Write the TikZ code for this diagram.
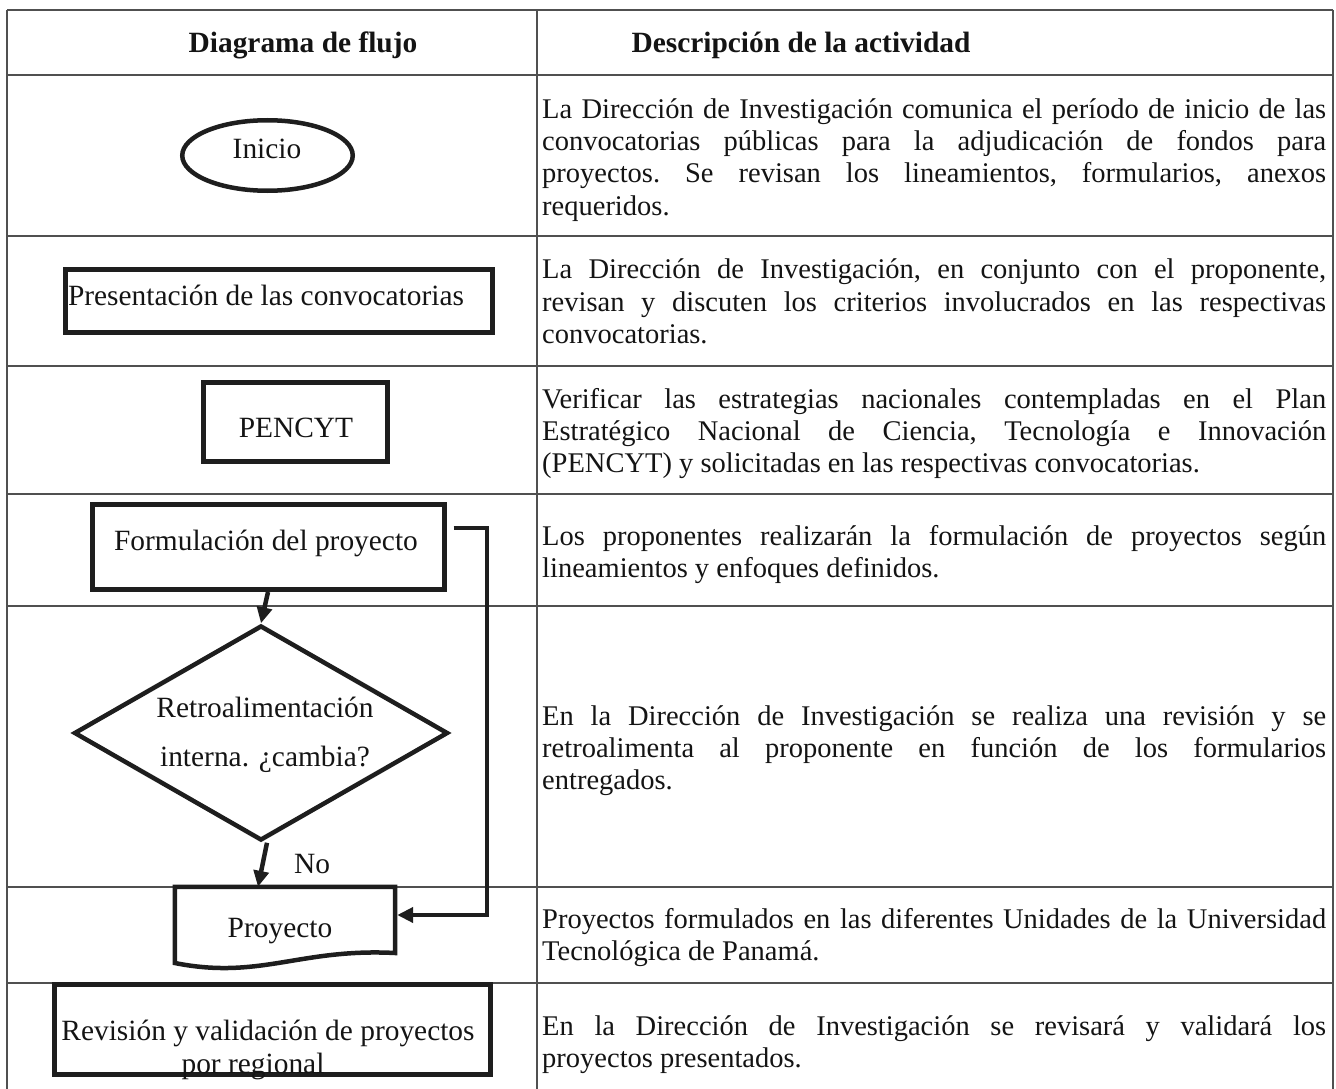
\documentclass[tikz,border=0pt]{standalone}
\usepackage{fontspec}
\setmainfont{Liberation Serif}
\usetikzlibrary{arrows.meta,shapes.geometric,calc}
\definecolor{tablecol}{HTML}{505050}
\definecolor{shapecol}{HTML}{1E1E1E}
\definecolor{txtcol}{HTML}{141414}
\newcommand{\dset}{\tolerance=10000\relax\hyphenpenalty=10000\relax\frenchspacing\strut}
\begin{document}
\begin{tikzpicture}[x=1pt,y=-1pt,
  tline/.style={line width=1.4pt, draw=tablecol},
  boxnode/.style={draw=shapecol, line width=5pt, rectangle, inner sep=0pt},
  conn/.style={line width=4.5pt, draw=shapecol, line join=miter, -{Triangle[length=16pt,width=15pt]}},
  txt/.style={inner sep=0pt, text=txtcol, font=\fontsize{29.4}{34}\selectfont},
  head/.style={inner sep=0pt, text=txtcol, font=\fontsize{29.4}{34}\selectfont\bfseries},
  desc/.style={inner sep=0pt, text=txtcol, anchor=north west, text width=784pt, align=justify,
               font=\fontsize{28.5}{32.4}\selectfont},
]
\useasboundingbox (0,0) rectangle (1336,1089);

% ---------- table grid ----------
\draw[tline] (7,10) -- (1333,10);
\draw[tline] (7,75) -- (1333,75);
\draw[tline] (7,236) -- (1333,236);
\draw[tline] (7,366) -- (1333,366);
\draw[tline] (7,494) -- (1333,494);
\draw[tline] (7,606) -- (1333,606);
\draw[tline] (7,887) -- (1333,887);
\draw[tline] (7,983) -- (1333,983);
\draw[tline] (7,10) -- (7,1089);
\draw[tline] (537,10) -- (537,1089);
\draw[tline] (1333,10) -- (1333,1089);

% ---------- header ----------
\node[head, anchor=base] (h1) at (303,53) {Diagrama de flujo};
\node[head, anchor=base] (h2) at (801,53) {Descripción de la actividad};

% ---------- flowchart shapes ----------
\node[ellipse, draw=shapecol, line width=4.5pt, inner sep=0pt,
      minimum width=170.5pt, minimum height=70.5pt] (inicio) at (267.5,155.5) {};
\node[boxnode, minimum width=427pt, minimum height=63pt] (pres) at (279,301) {};
\node[boxnode, minimum width=184pt, minimum height=79pt] (pency) at (295.5,422) {};
\node[boxnode, minimum width=352pt, minimum height=85pt] (form) at (268.5,547) {};
\node[diamond, draw=shapecol, line width=4.5pt, inner sep=0pt, line join=miter,
      minimum width=374pt, minimum height=215pt] (dia) at (261,733) {};
\node[inner sep=0pt, minimum width=220pt, minimum height=66pt] (proy) at (285,920) {};
\draw[draw=shapecol, line width=4.5pt, line join=miter]
  (proy.south west |- 0,963) -- (proy.north west) -- (proy.north east) -- (proy.east |- 0,953)
  .. controls (300,948) and (260,980) .. (proy.west |- 0,963) -- cycle;
\node[boxnode, minimum width=436pt, minimum height=90pt] (revi) at (272.5,1029.5) {};

% ---------- flowchart texts ----------
\node[txt, anchor=base] (tinicio) at (267,159) {Inicio};
\node[txt, anchor=base] (tpres) at (266,305) {Presentación de las convocatorias};
\node[txt, anchor=base] (tpency) at (296,437) {PENCYT};
\node[txt, anchor=base] (tform) at (266,550) {Formulación del proyecto};
\node[txt, anchor=base] (tdia1) at (265,717) {Retroalimentación};
\node[txt, anchor=base] (tdia2) at (265,766) {interna. ¿cambia?};
\node[txt, anchor=base] (tproy) at (280,937) {Proyecto};
\node[txt, anchor=base] (trevi1) at (268,1040) {Revisión y validación de proyectos};
\node[txt, anchor=base] (trevi2) at (253,1073) {por regional};

% ---------- connectors ----------
\draw[conn] ([xshift=-0.5pt]form.south) -- (dia.north);
\draw[conn] ([xshift=6pt]dia.south) -- ([xshift=-27pt]proy.north);
\node[txt, anchor=base] (tno) at (312,873) {No};
\coordinate (fbA) at (487,528);
\coordinate (fbB) at (487,915);
\draw[conn] ([xshift=6.5pt]form.east |- fbA) -- (fbA) -- (fbB) -- ([xshift=2pt]proy.east |- fbB);

% ---------- descriptions ----------
\node[desc] (d1) at (542,95.3) {\dset La Dirección de Investigación comunica el período de inicio de las\linebreak convocatorias públicas para la adjudicación de fondos para\linebreak proyectos. Se revisan los lineamientos, formularios, anexos\linebreak requeridos.};
\node[desc] (d2) at (542,255.8) {\dset La Dirección de Investigación, en conjunto con el proponente,\linebreak revisan y discuten los criterios involucrados en las respectivas\linebreak convocatorias.};
\node[desc] (d3) at (542,385.3) {\dset Verificar las estrategias nacionales contempladas en el Plan\linebreak Estratégico Nacional de Ciencia, Tecnología e Innovación\linebreak (PENCYT) y solicitadas en las respectivas convocatorias.};
\node[desc] (d4) at (542,522.3) {\dset Los proponentes realizarán la formulación de proyectos según\linebreak lineamientos y enfoques definidos.};
\node[desc] (d5) at (542,702.3) {\dset En la Dirección de Investigación se realiza una revisión y se\linebreak retroalimenta al proponente en función de los formularios\linebreak entregados.};
\node[desc] (d6) at (542,905.3) {\dset Proyectos formulados en las diferentes Unidades de la Universidad\linebreak Tecnológica de Panamá.};
\node[desc] (d7) at (542,1012.3) {\dset En la Dirección de Investigación se revisará y validará los\linebreak proyectos presentados.};
\end{tikzpicture}
\end{document}
